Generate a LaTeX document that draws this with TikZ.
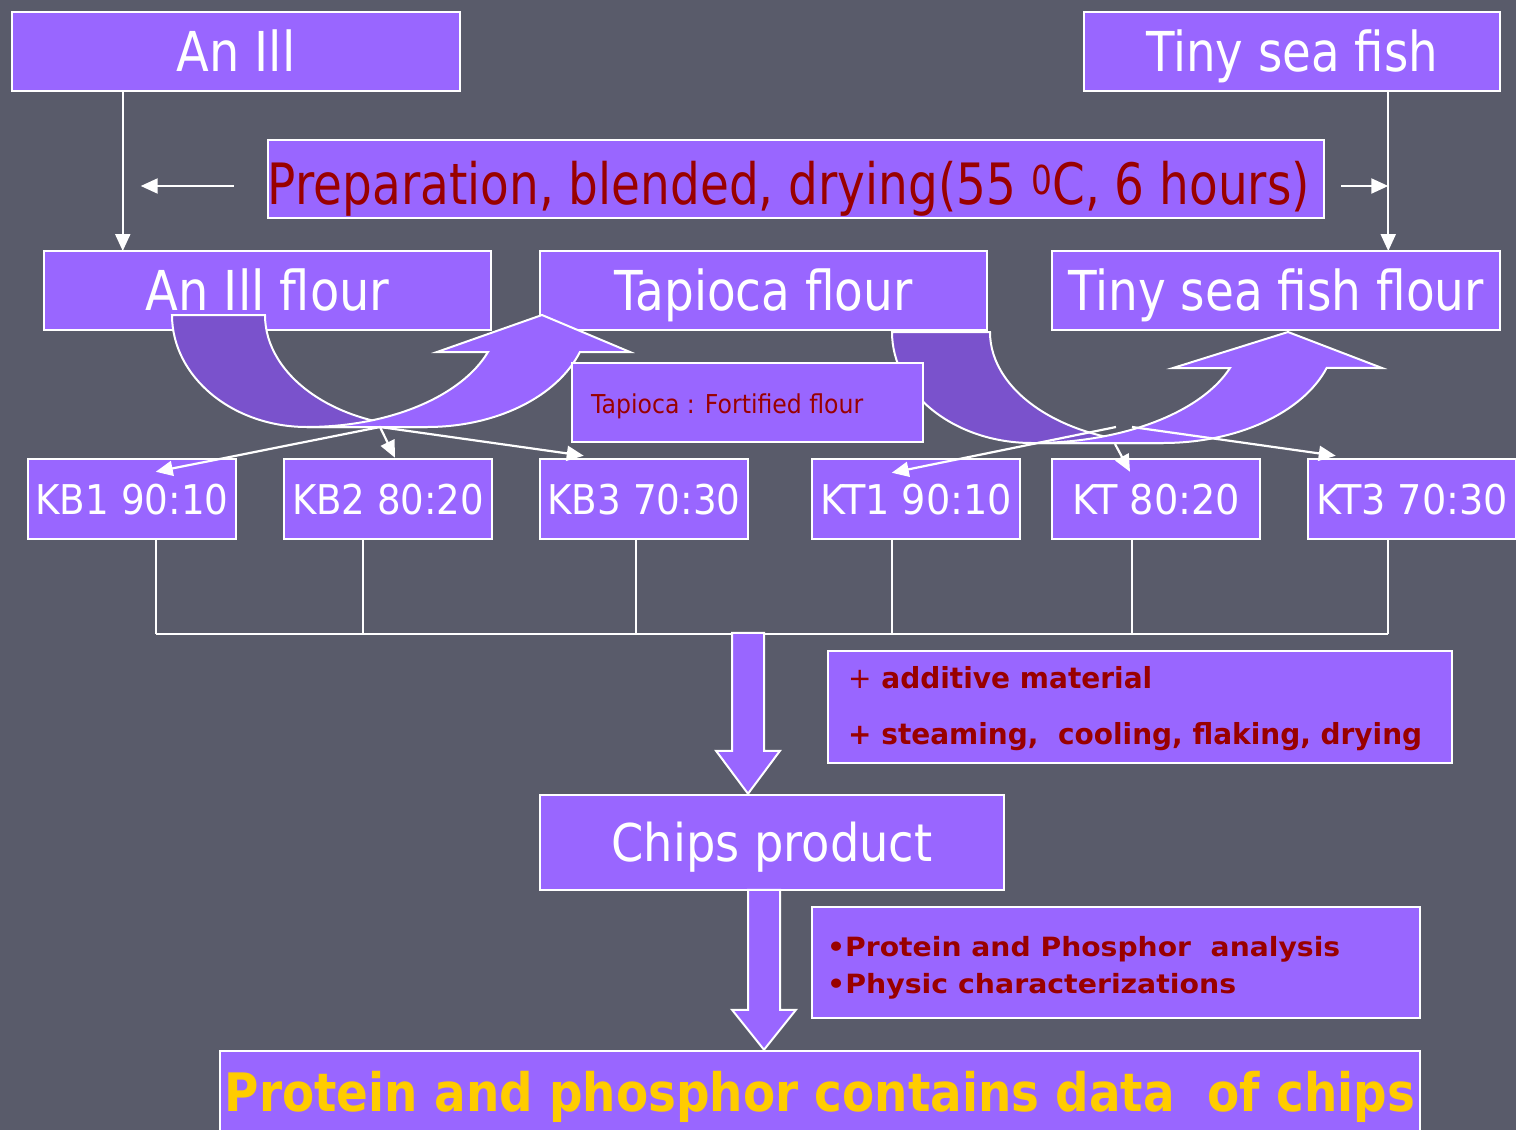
\documentclass[tikz,border=0pt]{standalone}
\usepackage{fontspec}
\setmainfont{DejaVu Sans}
\usepackage{graphicx}
\usetikzlibrary{arrows.meta}

\definecolor{slate}{RGB}{89,91,106}
\definecolor{lilac}{RGB}{153,102,255}
\definecolor{deeplilac}{RGB}{122,82,204}
\definecolor{darkred}{RGB}{153,0,0}
\definecolor{gold}{RGB}{255,204,0}

\newcommand{\fitto}[2]{\resizebox{#1}{\height}{#2}}

\tikzset{
  box/.style={draw=white, line width=2.5pt, fill=lilac, inner sep=0pt, text=white},
  big/.style={font=\fontsize{55}{60}\selectfont, text height=40pt, text depth=0pt},
  mid/.style={font=\fontsize{41}{46}\selectfont, text height=30pt, text depth=0pt},
  note/.style={anchor=base west, inner sep=0pt, text=darkred},
  conn/.style={draw=white, line width=2.2pt},
  tip/.style={conn, -{Triangle[length=17pt,width=15pt]}},
  band/.style={draw=white, line width=2pt},
}

\begin{document}
\begin{tikzpicture}[x=1pt,y=-1pt]
\useasboundingbox (0,0) rectangle (1516,1130);
\clip (0,0) rectangle (1516,1130);
\fill[slate] (0,0) rectangle (1516,1130);

% raw materials
\node[box,big,minimum width=448pt,minimum height=79pt] (anill) at (236,51.5) {\fitto{119pt}{An Ill}};
\node[box,big,minimum width=416pt,minimum height=79pt] (tiny) at (1292,51.5) {\fitto{292pt}{Tiny sea fish}};
\node[box,text=darkred,font=\fontsize{57}{60}\selectfont,text height=50pt,text depth=0pt,
      minimum width=1056pt,minimum height=78pt] (prep) at (796,179)
  {\fitto{1042pt}{Preparation, blended, drying(55 \textsuperscript{0}C, 6 hours)}\hspace*{14pt}};

\draw[tip] ([xshift=112pt]anill.south west) -- ([xshift=112pt]anill.south west |- 0,251);
\draw[tip] ([xshift=-113pt]tiny.south east) -- ([xshift=-113pt]tiny.south east |- 0,251);
\draw[tip] ([xshift=-33pt,yshift=-7pt]prep.west) -- ([xshift=-126pt,yshift=-7pt]prep.west);
\draw[tip] ([xshift=16pt,yshift=-7pt]prep.east) -- ([xshift=63pt,yshift=-7pt]prep.east);

% flours
\node[box,big,minimum width=447pt,minimum height=79pt] (anillflour) at (267.5,290.5) {\fitto{244pt}{An Ill flour}};
\node[box,big,minimum width=447pt,minimum height=79pt] (tapflour) at (763.5,290.5) {\fitto{298pt}{Tapioca flour}};
\node[box,big,minimum width=448pt,minimum height=79pt] (tinyflour) at (1276,290.5) {\fitto{416pt}{Tiny sea fish flour}};

% curved mixing arrows
\draw[band,fill=deeplilac] (172,315) arc[start angle=180,end angle=90,x radius=135,y radius=112]
  -- (427,427) arc[start angle=90,end angle=180,x radius=162,y radius=112] -- cycle;
\draw[band,fill=lilac] (307,427) -- (427,427) arc[start angle=90,end angle=19.3,x radius=162,y radius=112]
  -- (630,352) -- (542,315) -- (437,352) -- (488,352)
  arc[start angle=19.3,end angle=90,x radius=192,y radius=112] -- cycle;

\draw[band,fill=deeplilac] (892,332) arc[start angle=180,end angle=90,x radius=140,y radius=111]
  -- (1163,443) arc[start angle=90,end angle=180,x radius=173,y radius=111] -- cycle;
\draw[band,fill=lilac] (1032,443) -- (1163,443) arc[start angle=90,end angle=18.9,x radius=173,y radius=111]
  -- (1382,368) -- (1288,332) -- (1173,368) -- (1230,368)
  arc[start angle=18.9,end angle=90,x radius=209,y radius=111] -- cycle;

\node[box,minimum width=351pt,minimum height=79pt] (fortified) at (747.5,402.5) {};
\node[note,font=\fontsize{26}{28}\selectfont] (fortifiedtxt) at (591,413) {\fitto{272pt}{Tapioca : Fortified flour}};

% blends
\node[box,mid,minimum width=208pt,minimum height=80pt] (kb1) at (132,499) {\fitto{193pt}{KB1 90:10}};
\node[box,mid,minimum width=208pt,minimum height=80pt] (kb2) at (388,499) {\fitto{192pt}{KB2 80:20}};
\node[box,mid,minimum width=208pt,minimum height=80pt] (kb3) at (644,499) {\fitto{193pt}{KB3 70:30}};
\node[box,mid,minimum width=208pt,minimum height=80pt] (kt1) at (916,499) {\fitto{192pt}{KT1 90:10}};
\node[box,mid,minimum width=208pt,minimum height=80pt] (kt) at (1156,499) {\fitto{168pt}{KT 80:20}};
\node[box,mid,minimum width=208pt,minimum height=80pt] (kt3) at (1412,499) {\fitto{192pt}{KT3 70:30}};

\coordinate (mixb) at (380,427);
\coordinate (mixta) at (1116,427);
\coordinate (mixtb) at (1115,444);
\coordinate (mixtc) at (1132,427);
\draw[tip] (mixb) -- ([xshift=129pt,yshift=-14pt]kb1.north west);
\draw[tip] (mixb) -- ([xshift=7pt]kb2.north);
\draw[tip] (mixb) -- ([xshift=45pt,yshift=2pt]kb3.north west);
\draw[tip] (mixta) -- ([xshift=81pt,yshift=-15pt]kt1.north west);
\draw[tip] (mixtb) -- ([xshift=-26pt,yshift=-14pt]kt.north);
\draw[tip] (mixtc) -- ([xshift=29pt,yshift=2pt]kt3.north west);

\coordinate (bus) at (0,634);
\foreach \n/\dx in {kb1/24,kb2/-25,kb3/-8,kt1/-24,kt/-24,kt3/-24}
  \draw[conn] ([xshift=\dx pt]\n.south) -- ([xshift=\dx pt]\n.south |- bus);
\draw[conn] ([xshift=24pt]kb1.south |- bus) -- ([xshift=-24pt]kt3.south |- bus);

% processing
\node[box,minimum width=624pt,minimum height=112pt] (additive) at (1140,707) {};
\node[note,font=\fontsize{29}{30}\selectfont\bfseries] (addone) at (848,688) {\fitto{304pt}{{\mdseries +} additive material}};
\node[note,font=\fontsize{29}{30}\selectfont\bfseries] (addtwo) at (848,744) {\fitto{574pt}{+ steaming,\ \ cooling, flaking, drying}};

\node[box,font=\fontsize{52}{56}\selectfont,text height=38pt,text depth=0pt,
      minimum width=464pt,minimum height=95pt] (chips) at (772,842.5) {\fitto{321pt}{Chips product}};

\coordinate (tipa) at ([xshift=-24pt]chips.north);
\draw[band,fill=lilac] (tipa) -- ++(-32,-43) -- ++(16,0) -- ++(0,-118) -- ++(32,0) -- ++(0,118) -- ++(16,0) -- cycle;

\node[box,minimum width=608pt,minimum height=111pt] (analysis) at (1116,962.5) {};
\node[note,font=\fontsize{26.5}{28}\selectfont\bfseries] (anaone) at (827,956) {\fitto{513pt}{\textbullet Protein and Phosphor\ \ analysis}};
\node[note,font=\fontsize{26.5}{28}\selectfont\bfseries] (anatwo) at (827,993) {\fitto{409pt}{\textbullet Physic characterizations}};

\node[box,text=gold,font=\fontsize{53}{56}\selectfont\bfseries,text height=39pt,text depth=0pt,
      minimum width=1200pt,minimum height=82pt] (result) at (820,1092)
  {\fitto{1190pt}{Protein and phosphor contains data\ \ of chips}};

\coordinate (tipb) at ([xshift=-56pt]result.north);
\draw[band,fill=lilac] (tipb) -- ++(-32,-40) -- ++(16,0) -- ++(0,-120) -- ++(32,0) -- ++(0,120) -- ++(16,0) -- cycle;

\end{tikzpicture}
\end{document}
